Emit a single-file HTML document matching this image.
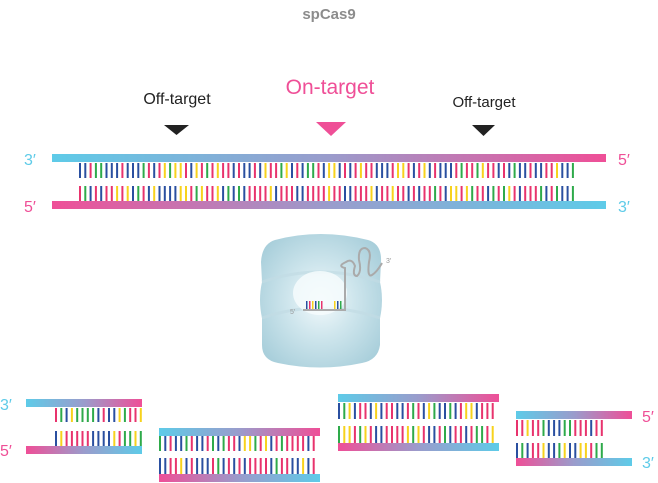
<!DOCTYPE html>
<html><head><meta charset="utf-8"><style>
html,body{margin:0;padding:0;background:#fff;}
svg{display:block;font-family:"Liberation Sans",sans-serif;}
</style></head><body>
<svg id="s" width="658" height="483" viewBox="0 0 658 483" xmlns="http://www.w3.org/2000/svg">
<defs>
<linearGradient id="cp" x1="0" x2="1" y1="0" y2="0"><stop offset="0" stop-color="#5ecbe8"/><stop offset="0.5" stop-color="#9a9ccc"/><stop offset="1" stop-color="#ef4f97"/></linearGradient>
<linearGradient id="pc" x1="0" x2="1" y1="0" y2="0"><stop offset="0" stop-color="#ef4f97"/><stop offset="0.5" stop-color="#9a9ccc"/><stop offset="1" stop-color="#5ecbe8"/></linearGradient>
<radialGradient id="blob" cx="0.5" cy="0.5" r="0.6"><stop offset="0" stop-color="#f4fafc"/><stop offset="0.45" stop-color="#cfe6ed"/><stop offset="1" stop-color="#a9cfdb"/></radialGradient>
</defs>
<text x="329" y="19" text-anchor="middle" font-size="15" font-weight="bold" fill="#8c8c8c">spCas9</text>
<text x="177" y="104" text-anchor="middle" font-size="16" fill="#222">Off-target</text>
<text x="330" y="94" text-anchor="middle" font-size="21" fill="#ef4f97">On-target</text>
<text x="484" y="107" text-anchor="middle" font-size="15" fill="#222">Off-target</text>
<polygon points="164,125 189,125 176.5,135" fill="#222"/>
<polygon points="316,122 346,122 331,136" fill="#ef4f97"/>
<polygon points="472,125 495,125 483.5,136" fill="#222"/>
<text x="24" y="165" font-size="16" fill="#5ecbe8">3′</text>
<text x="24" y="212" font-size="16" fill="#ef4f97">5′</text>
<text x="618" y="165" font-size="16" fill="#ef4f97">5′</text>
<text x="618" y="212" font-size="16" fill="#5ecbe8">3′</text>
<text x="0" y="410" font-size="16" fill="#5ecbe8">3′</text>
<text x="0" y="456" font-size="16" fill="#ef4f97">5′</text>
<text x="642" y="422" font-size="16" fill="#ef4f97">5′</text>
<text x="642" y="468" font-size="16" fill="#5ecbe8">3′</text>
<g id="dna"></g>
<!-- Cas9 -->
<path d="M275,240 Q320,228 368,240 Q382,244 381,262 L380,282 Q384,300 380,318 L380,345 Q378,360 362,363 Q320,372 278,363 Q262,360 262,345 L262,318 Q258,300 262,282 L261,262 Q262,244 275,240Z" fill="url(#blob)"/>
<path d="M262,282 Q320,262 380,282" fill="none" stroke="#c2dce4" stroke-width="3" opacity="0.7"/>
<path d="M262,318 Q320,298 380,318" fill="none" stroke="#c2dce4" stroke-width="3" opacity="0.7"/>
<ellipse cx="320" cy="293" rx="27" ry="22" fill="#f6fbfd" opacity="0.85"/>
<path d="M303,310 L345,310 L345,268 Q337,266 346,262 Q352,258 355,266 Q352,276 357,276 Q362,272 359,260 Q358,248 365,248 Q372,250 369,262 Q367,278 372,275 Q377,272 382,263" fill="none" stroke="#aaa" stroke-width="2"/>
<text x="290" y="314" font-size="7" fill="#999">5′</text>
<text x="386" y="263" font-size="7" fill="#999">3′</text>
<g id="rna"></g>
</svg>
<script>
var C=["#e8336d","#2a4fa0","#2eaa4a","#f7d21d"];
var k=1;function rnd(){k++;var x=Math.sin(k*12.9898+78.233)*43758.5453;return x-Math.floor(x);}
var g=document.getElementById('dna'),ns="http://www.w3.org/2000/svg";
function r(x,y,w,h,f){var e=document.createElementNS(ns,'rect');e.setAttribute('x',x);e.setAttribute('y',y);e.setAttribute('width',w);e.setAttribute('height',h);e.setAttribute('fill',f);g.appendChild(e);}
function pick(){var v=rnd();return v<0.4?C[0]:v<0.7?C[1]:v<0.85?C[2]:C[3];}
function rungs(x0,x1,y,h){for(var x=x0;x<=x1-2;x+=5.3){r(x,y,2,h,pick());}}
function dna(bx0,bx1,rx0,rx1,yt,ya,ha,yb,hb,ybot,g1,g2){r(bx0,yt,bx1-bx0,8,g1);rungs(rx0,rx1,ya,ha);rungs(rx0,rx1,yb,hb);r(bx0,ybot,bx1-bx0,8,g2);}
dna(52,606,79,578,154,163,15,186,15,201,"url(#cp)","url(#pc)");
dna(26,142,55,142,399,408,14,431,15,446,"url(#cp)","url(#pc)");
dna(159,320,159,320,428,436,15,458,16,474,"url(#cp)","url(#pc)");
dna(338,499,338,499,394,403,16,426,17,443,"url(#cp)","url(#pc)");
dna(516,632,516,606,411,420,16,443,15,458,"url(#cp)","url(#pc)");
g=document.getElementById('rna');
var rc=["#2a4fa0","#e8336d","#f7d21d","#2a4fa0","#2eaa4a","#e8336d"];
for(var i=0;i<6;i++)r(306+i*3,301,1.5,8,rc[i]);
r(334,301,1.5,8,"#f7d21d");r(337,301,1.5,8,"#2a4fa0");r(340,301,1.5,8,"#2eaa4a");
</script>
</body></html>
